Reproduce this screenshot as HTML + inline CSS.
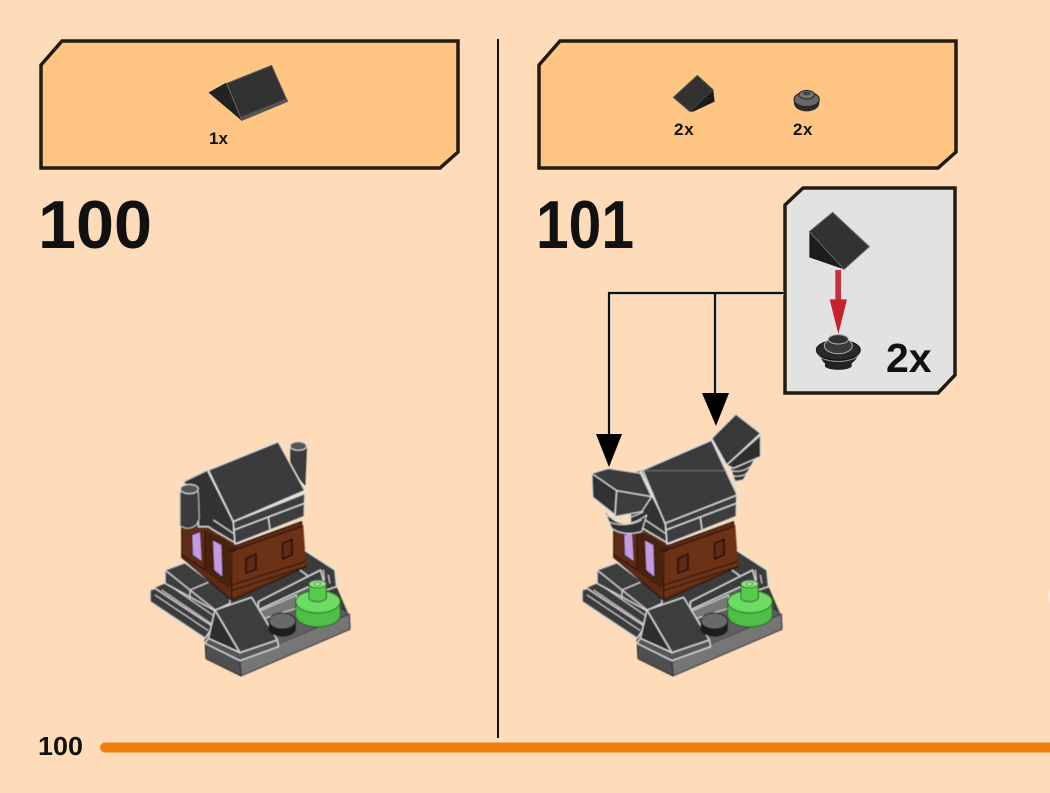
<!DOCTYPE html>
<html><head><meta charset="utf-8"><style>
html,body{margin:0;padding:0;background:#fedcba;width:1050px;height:793px;overflow:hidden}
svg{display:block}
text{font-family:"Liberation Sans",sans-serif;font-weight:700;fill:#111}
</style></head><body>
<svg width="1050" height="793" viewBox="0 0 1050 793" xmlns="http://www.w3.org/2000/svg">
<defs>
<filter id="b" x="-5%" y="-5%" width="110%" height="110%"><feGaussianBlur stdDeviation="0.45"/></filter>
<g id="house" stroke-linejoin="round">
  <!-- dark underlay fills the gaps between stone pieces -->
  <polygon points="60,510 105,490 105,450 165,428 300,500 515,385 615,450 620,500 655,582 330,722 225,670 225,655 60,545" fill="#3a3a3a"/>
  <!-- base -->
  <polygon points="225,655 330,720 333,768 228,716" fill="#4f4f4f" stroke="#222" stroke-width="3"/>
  <polygon points="330,720 658,582 660,628 333,768" fill="#767676" stroke="#222" stroke-width="3"/>
  <polygon points="225,660 440,560 530,500 655,582 330,722" fill="#5e5e5e"/>
  <!-- back wall -->
  <polygon points="515,385 615,450 620,500 590,510 510,450" fill="#3a3a3a" stroke="#ddd" stroke-width="4"/>
  <path d="M580,450 L585,500 M595,465 L600,490" stroke="#ddd" stroke-width="3" fill="none"/>
  <polygon points="385,545 572,450 580,480 385,570" fill="#3a3a3a" stroke="#ddd" stroke-width="4"/>
  <polygon points="385,575 500,525 500,565 420,590 390,600" fill="#777" stroke="#ddd" stroke-width="3"/>
  <!-- stairs -->
  <polygon points="60,510 75,505 250,620 225,655 60,545" fill="#3a3a3a" stroke="#d8d8d8" stroke-width="4"/>
  <path d="M75,525 L235,632 M95,510 L245,612 M110,490 L255,590" stroke="#d8d8d8" stroke-width="3" fill="none"/>
  <!-- blocks -->
  <polygon points="105,450 165,428 300,530 300,550 255,572 105,490" fill="#3c3c3c" stroke="#d8d8d8" stroke-width="4"/>
  <path d="M105,450 L180,510 L255,570 M180,510 L180,535 M180,510 L235,487" stroke="#d8d8d8" stroke-width="3.5" fill="none"/>
  <!-- brown house -->
  <polygon points="155,320 235,310 320,375 515,305 528,440 305,542 155,412" fill="#5e2c14" stroke="#1c0e06" stroke-width="3"/>
  <polygon points="225,330 320,380 305,495 225,445" fill="#4a200e"/>
  <polygon points="300,400 520,315 528,440 305,530" fill="#6c3317"/>
  <path d="M298,395 L515,320 M305,495 L525,425 M305,512 L528,440 M305,400 L305,540 M225,330 L225,450 M155,405 L225,450 L300,500" stroke="#1c0e06" stroke-width="3" fill="none"/>
  <polygon points="348,415 378,402 378,448 348,460" fill="#5e2c14" stroke="#1c0e06" stroke-width="4.5"/>
  <polygon points="458,370 486,358 486,405 458,417" fill="#5e2c14" stroke="#1c0e06" stroke-width="4.5"/>
  <polygon points="186,345 211,335 216,425 188,405" fill="#c39be0" stroke="#1c0e06" stroke-width="2"/>
  <polygon points="248,360 275,375 278,472 252,450" fill="#c39be0" stroke="#1c0e06" stroke-width="2"/>
  <!-- front slope -->
  <polygon points="225,670 235,655 330,698 442,660 446,680 330,722" fill="#555" stroke="#d8d8d8" stroke-width="4"/>
  <polygon points="255,570 330,698 235,655" fill="#2e2e2e" stroke="#d8d8d8" stroke-width="4"/>
  <polygon points="255,570 365,532 442,660 330,698" fill="#3d3d3d" stroke="#d8d8d8" stroke-width="4"/>
  <!-- round -->
  <path d="M417,603 V625 A40,24 0 0 0 497,625 V603 Z" fill="#1c1c1c" stroke="#111" stroke-width="2"/>
  <ellipse cx="457" cy="603" rx="40" ry="24" fill="#696969" stroke="#111" stroke-width="3"/>
  <!-- green -->
  <path d="M497,545 V585 A67,36 0 0 0 631,585 V545 Z" fill="#4fbf47" stroke="#245d22" stroke-width="3"/>
  <ellipse cx="564" cy="545" rx="67" ry="34" fill="#6ddc62" stroke="#245d22" stroke-width="3"/>
  <path d="M537,492 V535 A27,14 0 0 0 589,535 V492 Z" fill="#58cc4f" stroke="#245d22" stroke-width="3"/>
  <ellipse cx="563" cy="492" rx="26" ry="12" fill="#8be67f" stroke="#245d22" stroke-width="3"/>
  <ellipse cx="563" cy="492" rx="10" ry="5" fill="#b5eda9" stroke="#245d22" stroke-width="2"/>
  <!-- roof left gable -->
  <polygon points="160,185 232,150 310,305 315,368 250,330 235,320 205,320 205,250" fill="#333" stroke="#d8d8d8" stroke-width="4"/>
  <path d="M250,300 L310,340" stroke="#d8d8d8" stroke-width="3.5"/>
  <!-- roof front strip -->
  <polygon points="310,305 525,220 523,290 315,372" fill="#3c3c3c" stroke="#e0e0e0" stroke-width="4"/>
  <path d="M312,330 L523,250 M415,292 L420,328" stroke="#e0e0e0" stroke-width="4" fill="none"/>
  <!-- roof main -->
  <polygon points="235,150 445,65 525,212 310,305" fill="#3a3a3c" stroke="#e0e0e0" stroke-width="4"/>
</g>
</defs>

<!-- trays -->
<polygon points="41,65 62,41 458,41 458,152 440,168 41,168" fill="#fec583" stroke="#231a10" stroke-width="3.5"/>
<polygon points="539,65 560,41 956,41 956,152 938,168 539,168" fill="#fec583" stroke="#231a10" stroke-width="3.5"/>

<!-- divider -->
<rect x="497" y="39" width="2" height="699" fill="#111"/>

<!-- titles -->
<text x="38" y="248" font-size="68" textLength="114" lengthAdjust="spacingAndGlyphs">100</text>
<text x="536" y="248" font-size="68" textLength="98" lengthAdjust="spacingAndGlyphs">101</text>

<!-- left tray part -->
<g filter="url(#b)" transform="translate(190,50) scale(.3333)" stroke-linejoin="round">
  <polygon points="58,128 108,100 155,210" fill="#242424" stroke="#242424" stroke-width="3"/>
  <polygon points="110,100 245,46 290,148 155,210" fill="#333" stroke="#666" stroke-width="3"/>
  <polygon points="155,200 290,145 295,155 155,213" fill="#555"/>
</g>
<text x="209" y="144" font-size="17">1x</text>

<!-- right tray parts -->
<g filter="url(#b)" transform="translate(640,60) scale(.3333)" stroke-linejoin="round">
  <polygon points="100,112 172,46 220,90 150,155" fill="#333" stroke="#555" stroke-width="3"/>
  <polygon points="150,155 220,90 224,125 160,155" fill="#1e1e1e"/>
  <path d="M462,115 V130 A38,24 0 0 0 538,130 V115 Z" fill="#2c2c2c"/>
  <ellipse cx="500" cy="118" rx="38" ry="22" fill="#666" stroke="#222" stroke-width="3"/>
  <ellipse cx="500" cy="104" rx="23" ry="13" fill="#777" stroke="#222" stroke-width="3"/>
  <ellipse cx="500" cy="100" rx="12" ry="6" fill="#444"/>
</g>
<text x="674" y="135" font-size="17" letter-spacing=".8">2x</text>
<text x="793" y="135" font-size="17" letter-spacing=".5">2x</text>

<!-- models -->
<g filter="url(#b)">
  <g transform="translate(130,420) scale(.3333)">
    <g stroke-linejoin="round">
      <path d="M482,78 V145 L525,195 L530,78 Z" fill="#3a3a3a" stroke="#222" stroke-width="2"/>
      <ellipse cx="505" cy="78" rx="25" ry="13" fill="#555" stroke="#ddd" stroke-width="3"/>
    </g>
    <use href="#house"/>
    <path d="M150,215 V318 L168,325 Q205,325 208,290 L205,215 Z" fill="#3a3a3a" stroke="#ccc" stroke-width="2.5"/>
    <ellipse cx="178" cy="207" rx="27" ry="14" fill="#555" stroke="#ddd" stroke-width="3"/>
  </g>
  <g transform="translate(562,420) scale(.3333)">
    <use href="#house"/>
  </g>
  <g transform="translate(570,400) scale(.3333)" stroke-linejoin="round">
    <!-- left wing -->
    <path d="M100,325 Q150,405 230,345 L215,395 Q160,410 125,385 Z" fill="#333" stroke="#ddd" stroke-width="3"/>
    <path d="M105,345 Q160,370 220,335 M115,365 Q165,385 215,360" fill="none" stroke="#ddd" stroke-width="3"/>
    <polygon points="65,220 140,270 135,345 68,292" fill="#333" stroke="#ddd" stroke-width="3.5"/>
    <polygon points="65,220 115,205 212,220 245,290 140,272" fill="#3a3a3a" stroke="#ddd" stroke-width="3.5"/>
    <polygon points="140,272 245,290 215,335 135,350" fill="#3e3e3e" stroke="#ddd" stroke-width="3.5"/>
    <!-- right wing -->
    <path d="M480,200 L570,150 L520,240 L495,245 Z" fill="#333" stroke="#ddd" stroke-width="3"/>
    <path d="M480,212 Q515,220 540,200 M490,228 Q520,232 535,215" fill="none" stroke="#ddd" stroke-width="3"/>
    <polygon points="425,115 498,42 572,100 470,195" fill="#383838" stroke="#ddd" stroke-width="3.5"/>
    <polygon points="470,195 572,105 572,170 490,205" fill="#2e2e2e" stroke="#ddd" stroke-width="3.5"/>
    <!-- roof overlay -->
    <polygon points="218,210 425,120 502,285 285,370" fill="#3a3a3c" stroke="#e0e0e0" stroke-width="4"/>
    <path d="M225,212 H470" stroke="#888" stroke-width="2"/>
  </g>
</g>

<!-- callout -->
<polygon points="785,205 803,188 955,188 955,375 938,393 785,393" fill="#e2e2e2" stroke="#231a10" stroke-width="3.5"/>
<g filter="url(#b)" transform="translate(770,180) scale(.3333)" stroke-linejoin="round">
  <polygon points="118,155 222,268 118,232" fill="#1f1f1f"/>
  <polygon points="118,155 188,97 298,200 222,268" fill="#303030" stroke="#666" stroke-width="3"/>
  <rect x="196" y="270" width="17" height="90" fill="#c0303e"/>
  <polygon points="179,358 231,358 205,462" fill="#c9202e"/>
  <path d="M150,525 Q158,548 165,550 V560 A42,14 0 0 0 245,560 V550 Q262,540 268,512 Z" fill="#222"/>
  <ellipse cx="205" cy="510" rx="66" ry="30" fill="#2c2c2c" stroke="#111" stroke-width="3"/>
  <ellipse cx="205" cy="497" rx="42" ry="24" fill="#3a3a3a" stroke="#aaa" stroke-width="3"/>
  <ellipse cx="205" cy="478" rx="30" ry="14" fill="#333" stroke="#aaa" stroke-width="3"/>
  <path d="M145,525 A62,26 0 0 0 265,525" fill="none" stroke="#999" stroke-width="3"/>
</g>
<text x="886" y="372" font-size="41">2x</text>

<!-- connectors -->
<path d="M784,293 H609 V437 M715,293 V396" fill="none" stroke="#fff" stroke-width="4"/>
<path d="M784,293 H609 V437 M715,293 V396" fill="none" stroke="#111" stroke-width="2.4"/>
<polygon points="596,434 622,434 609,467" fill="#000"/>
<polygon points="702,393 729,393 716,426" fill="#000"/>

<!-- footer -->
<text x="38" y="755" font-size="26" textLength="45" lengthAdjust="spacingAndGlyphs">100</text>
<path d="M105,747.500 H1050" stroke="#ef7d0a" stroke-width="10" stroke-linecap="round"/>
<ellipse cx="1050" cy="596" rx="1.500" ry="7" fill="#fff" opacity=".6"/>
</svg>
</body></html>
